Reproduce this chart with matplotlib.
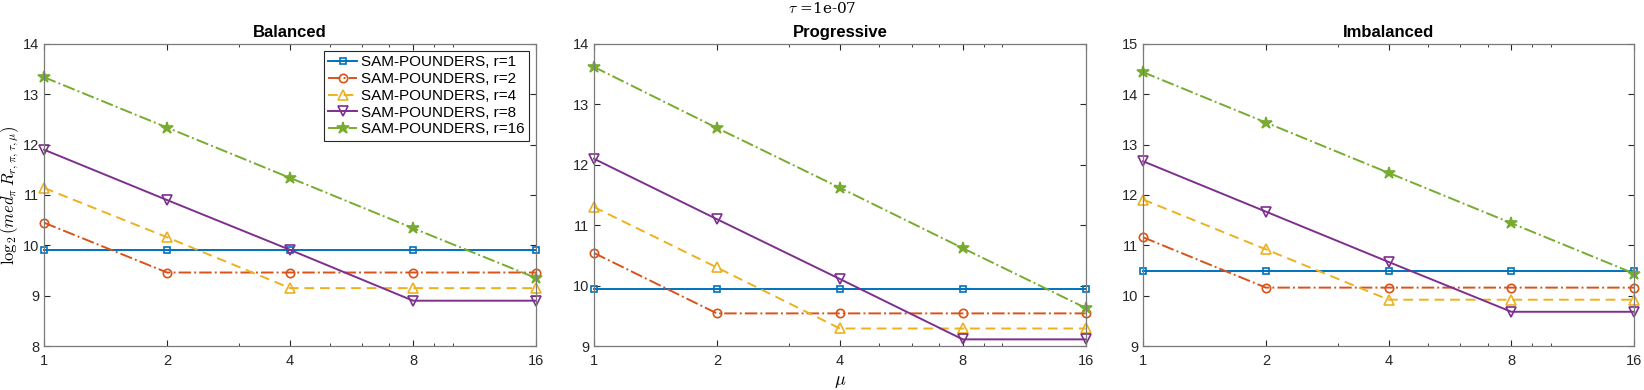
"""Median log2 ratio vs mu for SAM-POUNDERS, three allocation schemes."""

import matplotlib

matplotlib.use("Agg")

import matplotlib.pyplot as plt
from matplotlib.ticker import FixedLocator, NullFormatter

mu = [1, 2, 4, 8, 16]
r_values = [1, 2, 4, 8, 16]
panel_titles = ["Balanced", "Progressive", "Imbalanced"]
ylims = [(8, 14), (9, 14), (9, 15)]

balanced = {
    1: [9.91, 9.91, 9.91, 9.91, 9.91],
    2: [10.45, 9.46, 9.46, 9.46, 9.46],
    4: [11.14, 10.16, 9.15, 9.15, 9.15],
    8: [11.90, 10.90, 9.91, 8.90, 8.90],
    16: [13.34, 12.34, 11.34, 10.34, 9.35],
}
progressive = {
    1: [9.95, 9.95, 9.95, 9.95, 9.95],
    2: [10.54, 9.54, 9.54, 9.54, 9.54],
    4: [11.30, 10.30, 9.29, 9.29, 9.29],
    8: [12.10, 11.10, 10.11, 9.11, 9.11],
    16: [13.62, 12.61, 11.62, 10.62, 9.63],
}
imbalanced = {
    1: [10.50, 10.50, 10.50, 10.50, 10.50],
    2: [11.16, 10.16, 10.16, 10.16, 10.16],
    4: [11.91, 10.92, 9.92, 9.92, 9.92],
    8: [12.67, 11.67, 10.67, 9.68, 9.68],
    16: [14.44, 13.44, 12.44, 11.44, 10.44],
}

styles = {
    1: dict(color="#0072BD", ls="-", marker="s", ms=5, filled=False),
    2: dict(color="#D95319", ls="-.", marker="o", ms=6, filled=False),
    4: dict(color="#EDB120", ls=(0, (5, 3)), marker="^", ms=7, filled=False),
    8: dict(color="#7E2F8E", ls="-", marker="v", ms=7, filled=False),
    16: dict(color="#77AC30", ls="-.", marker="*", ms=9, filled=True),
}

plt.rcParams["font.family"] = ["Liberation Sans", "DejaVu Sans"]
plt.rcParams["mathtext.fontset"] = "cm"

fig = plt.figure(figsize=(16.44, 3.9), dpi=100)
lefts = [0.0268, 0.3613, 0.6953]
widths = [0.2993, 0.2991, 0.2987]
axes = [fig.add_axes([l, 0.1128, w, 0.7744]) for l, w in zip(lefts, widths)]

for ax, data, title, ylim in zip(axes, [balanced, progressive, imbalanced],
                                 panel_titles, ylims):
    for r in r_values:
        st = styles[r]
        ax.plot(mu, data[r], color=st["color"], ls=st["ls"], lw=1.4,
                marker=st["marker"], ms=st["ms"],
                mfc=st["color"] if st["filled"] else "none", mew=1.2,
                label=f"SAM-POUNDERS, r={r}", clip_on=False)
    ax.set_xscale("log", base=2)
    ax.set_xlim(1, 16)
    ax.set_ylim(*ylim)
    ax.xaxis.set_major_locator(FixedLocator(mu))
    ax.set_xticklabels([str(m) for m in mu])
    ax.xaxis.set_minor_locator(FixedLocator([3, 5, 6, 7, 9, 10]))
    ax.xaxis.set_minor_formatter(NullFormatter())
    ax.tick_params(which="both", direction="in", top=True, right=True,
                   color="#262626", labelsize=10.5, labelcolor="#262626")
    ax.tick_params(axis="x", pad=6)
    ax.tick_params(axis="y", pad=3.5)
    ax.tick_params(which="major", length=4)
    ax.tick_params(which="minor", length=2.5)
    for sp in ax.spines.values():
        sp.set_color("#7a7a7a")
        sp.set_linewidth(0.9)
    ax.set_title(title, fontsize=12, fontweight="bold", pad=5)

axes[0].set_ylabel(r"$\log_2(med_\pi\, R_{r,\pi,\tau,\mu})$", fontsize=12)
axes[0].yaxis.set_label_coords(-0.047, 0.5)
axes[1].set_xlabel(r"$\mu$", fontsize=13, labelpad=3)
leg = axes[0].legend(loc="upper right", fontsize=11, handlelength=1.9,
                     handletextpad=0.25, borderpad=0.3, labelspacing=0.18,
                     fancybox=False, framealpha=1, borderaxespad=0.45)
leg.get_frame().set_edgecolor("#262626")
leg.get_frame().set_linewidth(0.8)

fig.text(0.5, 0.998, r"$\tau$ =1e-07", ha="center", va="top",
         fontsize=11, family="serif")

fig.savefig("out.png", dpi=100)
